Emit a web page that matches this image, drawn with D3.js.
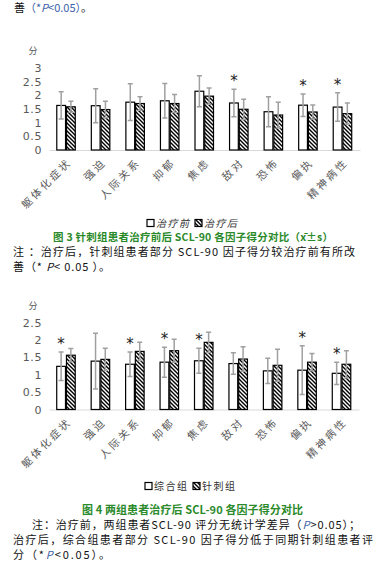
<!DOCTYPE html>
<html><head><meta charset="utf-8">
<script src="https://cdn.jsdelivr.net/npm/d3@7"></script>
<style>
html,body{margin:0;padding:0;background:#fff;}
svg{display:block;}
text{font-family:"Noto Sans CJK SC","DejaVu Sans",sans-serif;}
</style></head>
<body>
<script>
// ---- data ----
const categories = ["躯体化症状","强迫","人际关系","抑郁","焦虑","敌对","恐怖","偏执","精神病性"];
// Figure 3: acupuncture group before / after treatment
const before3 = [1.63,1.62,1.75,1.80,2.15,1.72,1.40,1.64,1.57];
const beforeSD3 = [0.50,0.62,0.67,0.63,0.57,0.50,0.55,0.41,0.52];
const after3 = [1.58,1.48,1.70,1.70,1.97,1.49,1.28,1.39,1.33];
const afterSD3 = [0.20,0.30,0.25,0.33,0.30,0.37,0.47,0.26,0.39];
const star3 = [5,7,8];
const yTicks3 = [0,0.5,1,1.5,2,2.5,3];
const legend3 = ["治疗前","治疗后"];
// Figure 4: combined vs acupuncture group after treatment
const comb4 = [1.24,1.39,1.30,1.36,1.40,1.32,1.11,1.13,1.04];
const combSD4 = [0.41,0.80,0.35,0.43,0.36,0.31,0.36,0.70,0.32];
const acu4 = [1.56,1.44,1.67,1.69,1.93,1.45,1.27,1.36,1.30];
const acuSD4 = [0.19,0.32,0.26,0.33,0.29,0.35,0.46,0.25,0.39];
const star4 = [0,2,3,4,7,8];
const yTicks4 = [0,0.5,1,1.5,2,2.5];
const legend4 = ["综合组","针刺组"];

const W = 391, H = 564;
const svg = d3.select("body").append("svg").attr("width",W).attr("height",H);
const defs = svg.append("defs");
const pat = defs.append("pattern").attr("id","hatch").attr("patternUnits","userSpaceOnUse")
  .attr("width",4).attr("height",4);
pat.append("rect").attr("width",4).attr("height",4).attr("fill","#fff");
pat.append("path").attr("d","M-1,-1 L5,5 M-1,3 L1,5 M3,-1 L5,1")
  .attr("stroke","#000").attr("stroke-width",1.4);

const green = "#2b8a2b", blue = "#3d5fa8", grayText = "#595959";

function chart(opt){
  const x = d3.scaleBand().domain(categories).range(opt.xr);
  const inner = d3.scaleBand().domain(["a","b"]).range([-9.5,9]).paddingInner(0.1);
  const y = d3.scaleLinear().domain(opt.yd).range(opt.yr);
  const g = svg.append("g");
  // y axis labels
  const ya = g.append("g").attr("transform",`translate(${opt.xr[0]-7},0)`)
    .call(d3.axisLeft(y).tickValues(opt.ticks).tickSize(0).tickPadding(0).tickFormat(d=>String(d)));
  ya.select(".domain").remove();
  ya.selectAll("text").attr("fill",grayText).style("font-family","'DejaVu Sans',sans-serif")
    .style("font-size","11px").style("letter-spacing","0.6px");
  g.append("text").attr("x",opt.xr[0]-16).attr("y",y(opt.yd[1])-14).text("分")
    .attr("font-size",9).attr("fill",grayText).attr("text-anchor","middle");
  // x axis
  const xa = g.append("g").attr("transform",`translate(0,${y(0)})`)
    .call(d3.axisBottom(x).tickSize(0).tickPadding(0));
  xa.select(".domain").attr("stroke","#d9d9d9").attr("stroke-width",1.2);
  xa.selectAll("text").attr("fill",grayText).attr("text-anchor","end")
    .style("font-size","10.5px").style("letter-spacing","2.6px")
    .attr("y",0).attr("dy",0)
    .attr("transform","translate(6,13) rotate(-45)");
  const series = [{k:"a",v:opt.s1,sd:opt.sd1,fill:"#fff"},{k:"b",v:opt.s2,sd:opt.sd2,fill:"url(#hatch)"}];
  series.forEach(s=>{
    const cx = i => x(categories[i]) + x.bandwidth()/2 + inner(s.k);
    g.append("g").selectAll("rect").data(s.v).join("rect")
      .attr("x",(d,i)=>cx(i)).attr("width",inner.bandwidth())
      .attr("y",d=>y(d)).attr("height",d=>y(0)-y(d))
      .attr("fill",s.fill).attr("stroke","#000").attr("stroke-width",1.2);
    const eb = g.append("g").attr("stroke","#a0a0a0").attr("stroke-width",1.5).attr("fill","none");
    s.v.forEach((d,i)=>{
      const xm = cx(i)+inner.bandwidth()/2;
      const t = y(d+s.sd[i]), b = y(d-s.sd[i]);
      eb.append("path").attr("d",`M${xm},${t}V${b}M${xm-2.5},${t}H${xm+2.5}M${xm-2.5},${b}H${xm+2.5}`);
    });
  });
  // stars
  g.append("g").selectAll("text").data(opt.stars).join("text")
    .attr("x",i=>x(categories[i])+x.bandwidth()/2+inner("a")+inner.bandwidth()/2)
    .attr("y",i=>y(opt.s1[i]+opt.sd1[i])-3)
    .attr("text-anchor","middle").attr("font-size",15).attr("fill","#222")
    .style("font-family","'DejaVu Sans',sans-serif").text("*");
  // legend
  const lg = g.append("g").attr("transform",`translate(${opt.lx},${opt.ly})`);
  const lw = 48;
  opt.leg.forEach((t,i)=>{
    const gg = lg.append("g").attr("transform",`translate(${i*lw},0)`);
    gg.append("rect").attr("x",0).attr("y",-3.5).attr("width",7).attr("height",7)
      .attr("fill",i?"url(#hatch)":"#fff").attr("stroke","#000").attr("stroke-width",1.2);
    gg.append("text").attr("x",9).attr("y",4).text(t).attr("font-size",10)
      .attr("fill","#333").style("font-style",opt.italic?"italic":"normal").style("letter-spacing","1.5px");
  });
}

chart({xr:[49,360], yd:[0,3], yr:[150,68], ticks:yTicks3, s1:before3, sd1:beforeSD3, s2:after3, sd2:afterSD3,
  stars:star3, leg:legend3, lx:147, ly:223, italic:true});
chart({xr:[49,359], yd:[0,2.5], yr:[409.5,322.5], ticks:yTicks4, s1:comb4, sd1:combSD4, s2:acu4, sd2:acuSD4,
  stars:star4, leg:legend4, lx:145, ly:486, italic:false});

// text blocks
function line(x,yb,parts,size,len,extra){
  const t = svg.append("text").attr("x",x).attr("y",yb).attr("font-size",size).attr("fill","#111");
  if(len) t.attr("textLength",len).attr("lengthAdjust","spacing");
  parts.forEach(p=>{
    const s = t.append("tspan").text(p.t);
    if(p.c) s.attr("fill",p.c);
    if(p.i) s.style("font-style","italic");
    if(p.b) s.style("font-weight","bold");
  });
  if(extra) extra(t);
  return t;
}
line(14,12,[{t:"善"},{t:"（*",c:blue},{t:"P",c:blue,i:1},{t:"<0.05）",c:blue},{t:"。"}],11,78);
line(53,241,[{t:"图 3 针刺组患者治疗前后 SCL-90 各因子得分对比（x̄±s）",c:green}],10.5,280,t=>t.style("font-weight","bold"));
line(13,256,[{t:"注 ：治疗后，针刺组患者部分 SCL-90 因子得分较治疗前有所改"}],11,342);
line(13,271,[{t:"善（* "},{t:"P",i:1},{t:"< 0.05 ）。"}],11,97);
line(82,514,[{t:"图 4 两组患者治疗后 SCL-90 各因子得分对比",c:green}],11,221,t=>t.style("font-weight","bold"));
line(32,529,[{t:"注：治疗前，两组患者SCL-90 评分无统计学差异（"},{t:"P",c:blue,i:1},{t:">0.05）；"}],11,328);
line(13,544,[{t:"治疗后，综合组患者部分 SCL-90 因子得分低于同期针刺组患者评"}],11,360);
line(13,559,[{t:"分（*"},{t:"P",c:blue,i:1},{t:"<0.05）。"}],11,97);
</script>
</body></html>
